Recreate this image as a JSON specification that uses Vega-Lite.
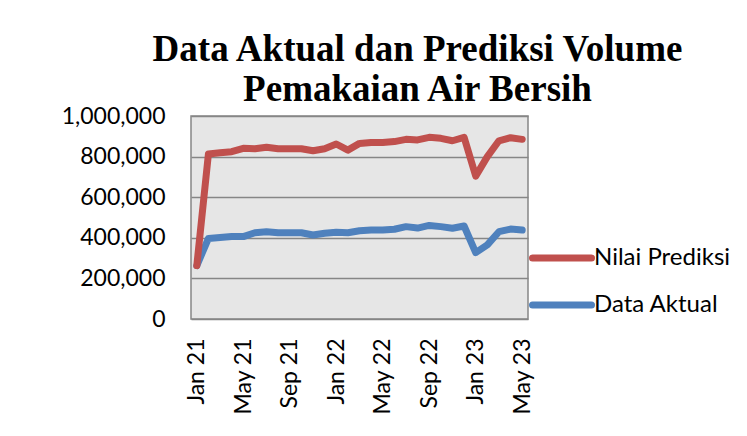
{
  "$schema": "https://vega.github.io/schema/vega-lite/v6.json",
  "autosize": {"type": "none"},
  "padding": {"left": 191, "top": 116, "right": 219, "bottom": 117},
  "width": 337,
  "height": 203,
  "background": "white",
  "title": {
    "text": ["Data Aktual dan Prediksi Volume", "Pemakaian Air Bersih"],
    "font": "Liberation Serif",
    "fontSize": 37,
    "fontWeight": "bold",
    "color": "black",
    "lineHeight": 40,
    "anchor": "middle",
    "frame": "group",
    "dx": 58,
    "offset": -4
  },
  "data": {
    "values": [
      {"bulan": "Jan 21", "seri": "Data Aktual", "nilai": 263000},
      {"bulan": "Feb 21", "seri": "Data Aktual", "nilai": 397000},
      {"bulan": "Mar 21", "seri": "Data Aktual", "nilai": 401000},
      {"bulan": "Apr 21", "seri": "Data Aktual", "nilai": 406000},
      {"bulan": "May 21", "seri": "Data Aktual", "nilai": 406000},
      {"bulan": "Jun 21", "seri": "Data Aktual", "nilai": 425000},
      {"bulan": "Jul 21", "seri": "Data Aktual", "nilai": 430000},
      {"bulan": "Aug 21", "seri": "Data Aktual", "nilai": 425000},
      {"bulan": "Sep 21", "seri": "Data Aktual", "nilai": 425000},
      {"bulan": "Oct 21", "seri": "Data Aktual", "nilai": 425000},
      {"bulan": "Nov 21", "seri": "Data Aktual", "nilai": 414000},
      {"bulan": "Dec 21", "seri": "Data Aktual", "nilai": 422000},
      {"bulan": "Jan 22", "seri": "Data Aktual", "nilai": 427000},
      {"bulan": "Feb 22", "seri": "Data Aktual", "nilai": 425000},
      {"bulan": "Mar 22", "seri": "Data Aktual", "nilai": 435000},
      {"bulan": "Apr 22", "seri": "Data Aktual", "nilai": 438000},
      {"bulan": "May 22", "seri": "Data Aktual", "nilai": 438000},
      {"bulan": "Jun 22", "seri": "Data Aktual", "nilai": 442000},
      {"bulan": "Jul 22", "seri": "Data Aktual", "nilai": 455000},
      {"bulan": "Aug 22", "seri": "Data Aktual", "nilai": 448000},
      {"bulan": "Sep 22", "seri": "Data Aktual", "nilai": 461000},
      {"bulan": "Oct 22", "seri": "Data Aktual", "nilai": 455000},
      {"bulan": "Nov 22", "seri": "Data Aktual", "nilai": 447000},
      {"bulan": "Dec 22", "seri": "Data Aktual", "nilai": 458000},
      {"bulan": "Jan 23", "seri": "Data Aktual", "nilai": 327000},
      {"bulan": "Feb 23", "seri": "Data Aktual", "nilai": 365000},
      {"bulan": "Mar 23", "seri": "Data Aktual", "nilai": 430000},
      {"bulan": "Apr 23", "seri": "Data Aktual", "nilai": 443000},
      {"bulan": "May 23", "seri": "Data Aktual", "nilai": 438000},
      {"bulan": "Jan 21", "seri": "Nilai Prediksi", "nilai": 263000},
      {"bulan": "Feb 21", "seri": "Nilai Prediksi", "nilai": 813000},
      {"bulan": "Mar 21", "seri": "Nilai Prediksi", "nilai": 819000},
      {"bulan": "Apr 21", "seri": "Nilai Prediksi", "nilai": 824000},
      {"bulan": "May 21", "seri": "Nilai Prediksi", "nilai": 841000},
      {"bulan": "Jun 21", "seri": "Nilai Prediksi", "nilai": 839000},
      {"bulan": "Jul 21", "seri": "Nilai Prediksi", "nilai": 846000},
      {"bulan": "Aug 21", "seri": "Nilai Prediksi", "nilai": 839000},
      {"bulan": "Sep 21", "seri": "Nilai Prediksi", "nilai": 839000},
      {"bulan": "Oct 21", "seri": "Nilai Prediksi", "nilai": 839000},
      {"bulan": "Nov 21", "seri": "Nilai Prediksi", "nilai": 829000},
      {"bulan": "Dec 21", "seri": "Nilai Prediksi", "nilai": 839000},
      {"bulan": "Jan 22", "seri": "Nilai Prediksi", "nilai": 862000},
      {"bulan": "Feb 22", "seri": "Nilai Prediksi", "nilai": 832000},
      {"bulan": "Mar 22", "seri": "Nilai Prediksi", "nilai": 865000},
      {"bulan": "Apr 22", "seri": "Nilai Prediksi", "nilai": 869000},
      {"bulan": "May 22", "seri": "Nilai Prediksi", "nilai": 869000},
      {"bulan": "Jun 22", "seri": "Nilai Prediksi", "nilai": 874000},
      {"bulan": "Jul 22", "seri": "Nilai Prediksi", "nilai": 885000},
      {"bulan": "Aug 22", "seri": "Nilai Prediksi", "nilai": 882000},
      {"bulan": "Sep 22", "seri": "Nilai Prediksi", "nilai": 895000},
      {"bulan": "Oct 22", "seri": "Nilai Prediksi", "nilai": 890000},
      {"bulan": "Nov 22", "seri": "Nilai Prediksi", "nilai": 878000},
      {"bulan": "Dec 22", "seri": "Nilai Prediksi", "nilai": 895000},
      {"bulan": "Jan 23", "seri": "Nilai Prediksi", "nilai": 704000},
      {"bulan": "Feb 23", "seri": "Nilai Prediksi", "nilai": 800000},
      {"bulan": "Mar 23", "seri": "Nilai Prediksi", "nilai": 878000},
      {"bulan": "Apr 23", "seri": "Nilai Prediksi", "nilai": 893000},
      {"bulan": "May 23", "seri": "Nilai Prediksi", "nilai": 885000}
    ]
  },
  "mark": {"type": "line", "strokeWidth": 7, "strokeCap": "round", "strokeJoin": "round"},
  "encoding": {
    "x": {
      "field": "bulan",
      "type": "ordinal",
      "sort": null,
      "scale": {"type": "point", "padding": 0.5},
      "axis": {
        "title": null,
        "values": ["Jan 21", "May 21", "Sep 21", "Jan 22", "May 22", "Sep 22", "Jan 23", "May 23"],
        "labelAngle": -90,
        "labelFont": "Lato",
        "labelFontSize": 23,
        "labelColor": "black",
        "labelPadding": 19,
        "ticks": false,
        "domain": false,
        "grid": false
      }
    },
    "y": {
      "field": "nilai",
      "type": "quantitative",
      "scale": {"domain": [0, 1000000], "nice": false},
      "axis": {
        "title": null,
        "values": [0, 200000, 400000, 600000, 800000, 1000000],
        "format": ",.0f",
        "labelFont": "Lato",
        "labelFontSize": 23,
        "labelColor": "black",
        "labelPadding": 26,
        "ticks": false,
        "domain": false,
        "grid": true,
        "gridColor": "#868686",
        "gridWidth": 1.5,
        "gridOpacity": 1
      }
    },
    "color": {
      "field": "seri",
      "type": "nominal",
      "scale": {"domain": ["Nilai Prediksi", "Data Aktual"], "range": ["#c0504d", "#4f81bd"]},
      "legend": {
        "title": null,
        "orient": "none",
        "legendX": 338,
        "legendY": 109,
        "symbolType": "stroke",
        "symbolSize": 3481,
        "symbolStrokeWidth": 7,
        "labelFont": "Lato",
        "labelFontSize": 24,
        "labelColor": "black",
        "labelOffset": -1,
        "rowPadding": -11,
        "encode": {"symbols": {"update": {"strokeCap": {"value": "round"}}}}
      }
    }
  },
  "config": {
    "view": {"fill": "#e6e6e6", "stroke": "#868686", "strokeWidth": 1.5}
  }
}
